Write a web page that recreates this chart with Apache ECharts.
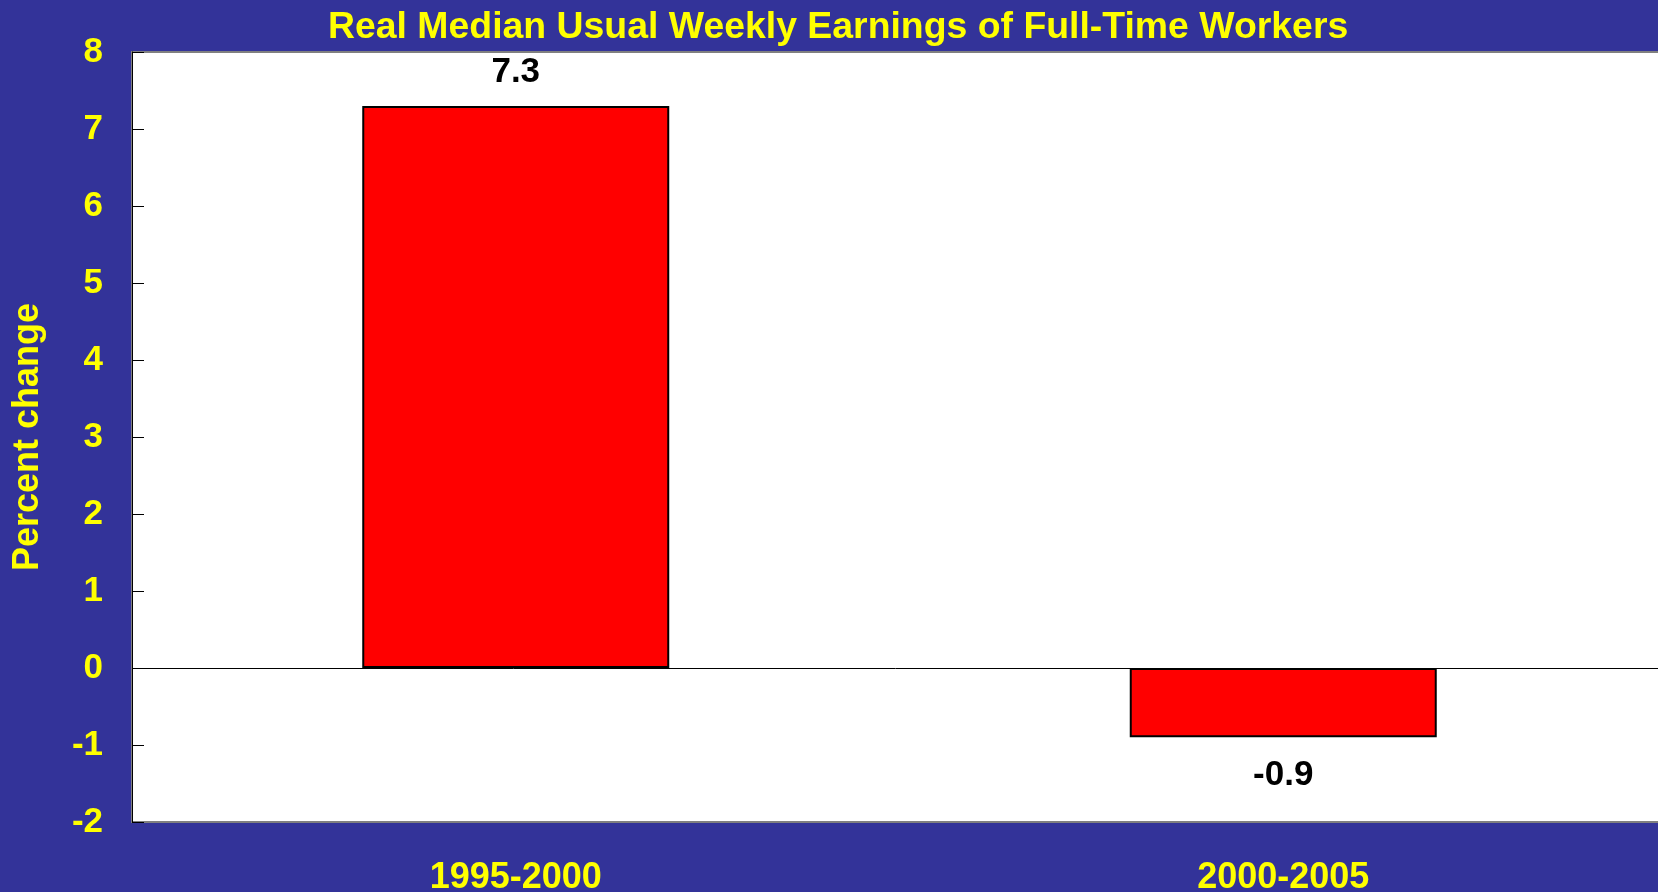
<!DOCTYPE html>
<html>
<head>
<meta charset="utf-8">
<style>
html,body{margin:0;padding:0;background:#333399;}
#chart{width:1658px;height:892px;}
</style>
<script src="https://cdn.jsdelivr.net/npm/echarts@6/dist/echarts.min.js"></script>
</head>
<body>
<div id="chart"></div>
<script>
const titleText = 'Real Median Usual Weekly Earnings of Full-Time Workers';
const categories = ['1995-2000', '2000-2005'];
const values = [7.3, -0.9];
const yMin = -2, yMax = 8, yInterval = 1;
const yAxisName = 'Percent change';

const FONT = '"Liberation Sans", Arial, sans-serif';
const YELLOW = '#FFFF00';

const chart = echarts.init(document.getElementById('chart'), null, {renderer: 'canvas'});
chart.setOption({
  backgroundColor: '#333399',
  animation: false,
  title: {
    text: titleText,
    left: 328,
    top: 4,
    padding: [5, 0, 5, 0],
    textStyle: {color: YELLOW, fontFamily: FONT, fontWeight: 'bold', fontSize: 37.4}
  },
  grid: {
    left: 132, top: 52, bottom: 70, width: 1535,
    show: true, backgroundColor: '#ffffff', borderColor: '#808080', borderWidth: 2,
    containLabel: false,
    outerBoundsMode: 'none'
  },
  xAxis: {
    type: 'category',
    data: categories,
    axisLine: {show: false},
    axisTick: {show: false},
    splitLine: {show: false},
    axisLabel: {color: YELLOW, fontFamily: FONT, fontWeight: 'bold', fontSize: 36, margin: 38}
  },
  yAxis: {
    type: 'value',
    min: yMin, max: yMax, interval: yInterval,
    name: yAxisName,
    nameLocation: 'middle',
    nameRotate: 90,
    nameGap: 86,
    nameTextStyle: {color: YELLOW, fontFamily: FONT, fontWeight: 'bold', fontSize: 36},
    axisLine: {show: true, lineStyle: {color: '#000000', width: 1}},
    axisTick: {show: true, inside: true, length: 12, lineStyle: {color: '#000000', width: 1}},
    splitLine: {show: false},
    axisLabel: {color: YELLOW, fontFamily: FONT, fontWeight: 'bold', fontSize: 35, margin: 29, padding: [5, 0, 0, 0]}
  },
  series: [{
    type: 'bar',
    barWidth: '40%',
    data: values.map(v => ({
      value: v,
      label: {position: v >= 0 ? 'top' : 'bottom', distance: v >= 0 ? 16 : 21}
    })),
    itemStyle: {color: '#FF0000', borderColor: '#000000', borderWidth: 2},
    label: {
      show: true,
      color: '#000000',
      fontFamily: FONT,
      fontWeight: 'bold',
      fontSize: 35,
      formatter: p => p.value.toFixed(1)
    },
    markLine: {
      silent: true,
      symbol: 'none',
      label: {show: false},
      lineStyle: {color: '#000000', width: 1, type: 'solid'},
      data: [{yAxis: 0}]
    }
  }]
});
</script>
</body>
</html>
